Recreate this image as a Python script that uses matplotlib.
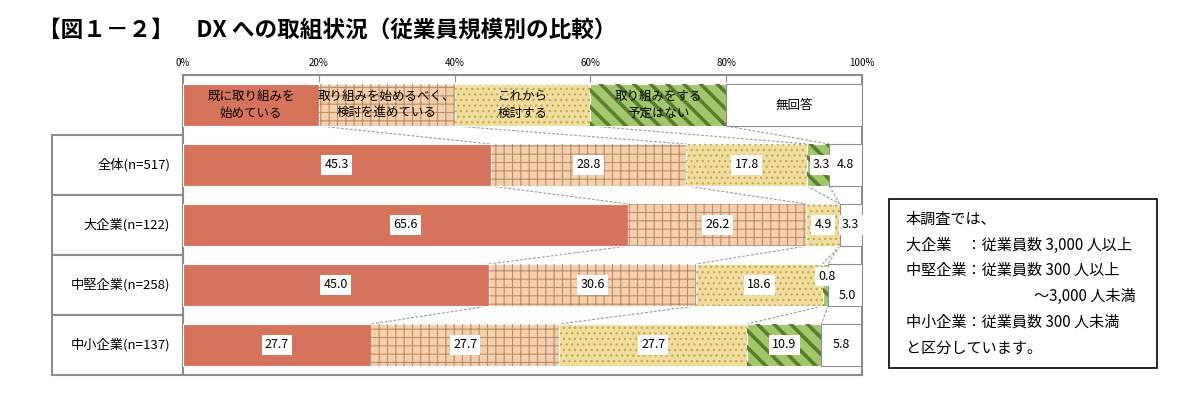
import numpy as np
import matplotlib.pyplot as plt
from matplotlib.patches import Rectangle

plt.rcParams['font.family'] = ['Noto Sans CJK JP', 'DejaVu Sans']

# data (percent)
groups = ['全体(n=517)', '大企業(n=122)', '中堅企業(n=258)', '中小企業(n=137)']
answers = ['既に取り組みを\n始めている', '取り組みを始めるべく、\n検討を進めている',
           'これから\n検討する', '取り組みをする\n予定はない', '無回答']
started = [45.3, 65.6, 45.0, 27.7]
considering = [28.8, 26.2, 30.6, 27.7]
will_consider = [17.8, 4.9, 18.6, 27.7]
no_plan = [3.3, 0.0, 0.8, 10.9]
no_answer = [4.8, 3.3, 5.0, 5.8]
key_widths = [20, 20, 20, 20, 20]   # header row acting as legend
ticks = [0, 20, 40, 60, 80, 100]

series = [started, considering, will_consider, no_plan, no_answer]
values = np.array(series).T          # rows = groups

# styles
faces = ['#D5735B', '#F5CEAC', '#F1DE9F', '#A3C56C', 'white']
hatches = [None, '++', '...', '\\\\', None]
hatch_cols = [None, '#B88C66', '#C6A557', '#557F2E', None]
hatch_lws = [0, 0.8, 0.9, 2.6, 0]
bar_h = 0.7
grey = '#8C8C8C'

fig = plt.figure(figsize=(11.92, 4), dpi=100)
ax = fig.add_axes([183 / 1192, 25 / 400, 679 / 1192, 300 / 400])


def draw_row(y, widths):
    lefts = np.concatenate([[0], np.cumsum(widths)[:-1]])
    for k, (l, w) in enumerate(zip(lefts, widths)):
        if w <= 0:
            continue
        ec = grey if k == 4 else 'white'
        ax.barh(y, w, left=l, height=bar_h, color=faces[k], edgecolor=ec,
                linewidth=0.8, zorder=3)
        if hatches[k]:
            bc = ax.barh(y, w, left=l, height=bar_h, color='none',
                         edgecolor=hatch_cols[k], hatch=hatches[k],
                         linewidth=0, zorder=3.1)
            for p in bc:
                if hasattr(p, 'set_hatch_linewidth'):
                    p.set_hatch_linewidth(hatch_lws[k])
    return lefts + np.array(widths)


# header row (legend)
key_cum = draw_row(0, key_widths)
key_lefts = key_cum - np.array(key_widths)
for k, txt in enumerate(answers):
    ax.text(key_lefts[k] + key_widths[k] / 2, 0, txt, ha='center', va='center',
            fontsize=9, linespacing=1.45, zorder=5)

# group rows
cums = [key_cum]
label_offsets = {(2, 3): (0.2, -0.14), (2, 4): (0.4, 0.17), (0, 3): (0.5, 0)}
for i, row in enumerate(values):
    y = i + 1
    cum = draw_row(y, row)
    cums.append(cum)
    lefts = cum - row
    for k, v in enumerate(row):
        if v <= 0:
            continue
        dx, dy = label_offsets.get((i, k), (0, 0))
        ax.text(lefts[k] + v / 2 + dx, y + dy, f'{v:.1f}', ha='center',
                va='center', fontsize=9, zorder=6,
                bbox=dict(boxstyle='square,pad=0.25', fc='white', ec='none'))

# series connector lines
for r in range(len(cums) - 1):
    for k in range(4):
        ax.plot([cums[r][k], cums[r + 1][k]],
                [r + bar_h / 2, r + 1 - bar_h / 2],
                color='#9A9A9A', lw=0.8, ls=(0, (2.5, 1.5)), zorder=2)

ax.set_xlim(0, 100)
ax.set_ylim(4.5, -0.5)
ax.xaxis.tick_top()
ax.set_xticks(ticks)
ax.set_xticklabels([f'{t}%' for t in ticks])
ax.tick_params(axis='x', direction='in', length=5, color=grey, labelsize=7,
               pad=5)
ax.set_yticks([])
for s in ax.spines.values():
    s.set_color(grey)
    s.set_linewidth(1.5)

# category boxes on the left
box_left = -19.3
for i, g in enumerate(groups):
    y = i + 1
    ax.add_patch(Rectangle((box_left, y - 0.5), -box_left, 1, fc='white',
                           ec=grey, lw=1.5, clip_on=False, zorder=1))
    ax.text(-1.9, y, g, ha='right', va='center', fontsize=9.5)

# title
fig.text(38 / 1192, 1 - 30 / 400, '【図１－２】　DX への取組状況（従業員規模別の比較）',
         fontsize=16.3, fontweight='bold', va='center')

# note box
fig.add_artist(Rectangle((889 / 1192, 1 - 368 / 400), 268 / 1192, 169 / 400,
                         transform=fig.transFigure, fill=False, ec='black',
                         lw=1.2))
note = ['本調査では、', '大企業　：従業員数 3,000 人以上', '中堅企業：従業員数 300 人以上',
        None, '中小企業：従業員数 300 人未満', 'と区分しています。']
ys = [219, 245, 270, 296, 322, 348]
for line, y in zip(note, ys):
    if line:
        fig.text(906 / 1192, 1 - y / 400, line, va='center', fontsize=10.9)
fig.text(1136 / 1192, 1 - ys[3] / 400, '～3,000 人未満', ha='right',
         va='center', fontsize=10.9)

fig.savefig('out.png', dpi=100)
